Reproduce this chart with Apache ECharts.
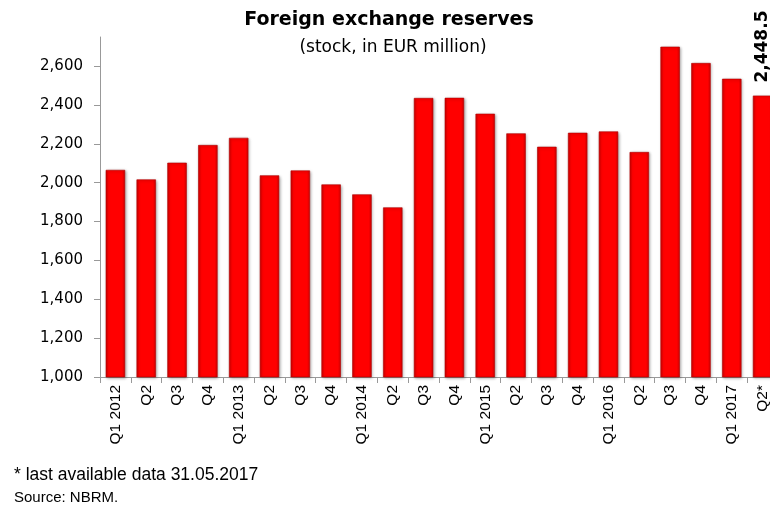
<!DOCTYPE html>
<html><head><meta charset="utf-8">
<script src="https://cdn.jsdelivr.net/npm/echarts@6/dist/echarts.min.js"></script>
<style>html,body{margin:0;padding:0;background:#fff;overflow:hidden;width:770px;height:506px}#c{width:790px;height:506px}</style>
</head><body><div id="c"></div>
<script>
const categories = ["Q1 2012","Q2","Q3","Q4","Q1 2013","Q2","Q3","Q4","Q1 2014","Q2","Q3","Q4","Q1 2015","Q2","Q3","Q4","Q1 2016","Q2","Q3","Q4","Q1 2017","Q2*"];
const reserves = [2066,2017,2103,2194,2231,2038,2063,1991,1940,1873,2436,2437,2355,2254,2185,2257,2264,2158,2700,2616,2535,2448.5];
const labelledIndex = 21;
const labelText = "2,448.5";

const chart = echarts.init(document.getElementById('c'), null, {renderer:'canvas'});
const barGrad = new echarts.graphic.LinearGradient(0,0,1,0,[
  {offset:0,color:'#d00000'},{offset:0.15,color:'#ff0000'},{offset:0.85,color:'#ff0000'},{offset:1,color:'#d00000'}]);
chart.setOption({
  animation:false,
  title:[{text:'Foreign exchange reserves',left:384,textAlign:'center',top:6,
    textStyle:{fontFamily:'DejaVu Sans',fontWeight:'bold',fontSize:19,color:'#000'}},
    {text:'(stock, in EUR million)',left:388,textAlign:'center',top:34,
    textStyle:{fontFamily:'DejaVu Sans',fontWeight:'normal',fontSize:17,color:'#000'}},
    {text:'* last available data 31.05.2017',left:14,top:466,padding:0,
    textStyle:{fontFamily:'Liberation Sans',fontWeight:'normal',fontSize:17.5,color:'#000'}},
    {text:'Source: NBRM.',left:14,top:490,padding:0,
    textStyle:{fontFamily:'Liberation Sans',fontWeight:'normal',fontSize:15,color:'#000'}}],
  grid:{left:100,top:37,bottom:129,right:12,containLabel:false},
  xAxis:{type:'category',data:categories,
    axisLine:{lineStyle:{color:'#999',width:1}},
    axisTick:{show:true,alignWithLabel:false,length:6,lineStyle:{color:'#999'}},
    axisLabel:{rotate:90,interval:0,fontFamily:'Liberation Sans',fontSize:15.5,color:'#000',margin:8}},
  yAxis:{type:'value',min:1000,max:2750,interval:200,
    axisLine:{show:true,lineStyle:{color:'#999',width:1}},
    axisTick:{show:true,length:6,lineStyle:{color:'#999'}},
    splitLine:{show:false},
    axisLabel:{showMaxLabel:false,fontFamily:'DejaVu Sans',fontSize:15,color:'#000',margin:17,
      formatter:v=>v.toLocaleString('en-US')}},
  series:[{type:'bar',data:reserves.map((v,i)=>i===labelledIndex?{value:v,label:{show:true}}:v),
    barCategoryGap:'37%',
    itemStyle:{color:barGrad,borderColor:'#b00000',borderWidth:0.6,
      shadowColor:'rgba(0,0,0,0.35)',shadowBlur:3,shadowOffsetX:1,shadowOffsetY:1},
    label:{show:false,position:'top',rotate:90,align:'left',verticalAlign:'middle',distance:13,
      formatter:()=>labelText,fontFamily:'DejaVu Sans',fontWeight:'bold',fontSize:17,color:'#000'}}]
});
</script></body></html>
